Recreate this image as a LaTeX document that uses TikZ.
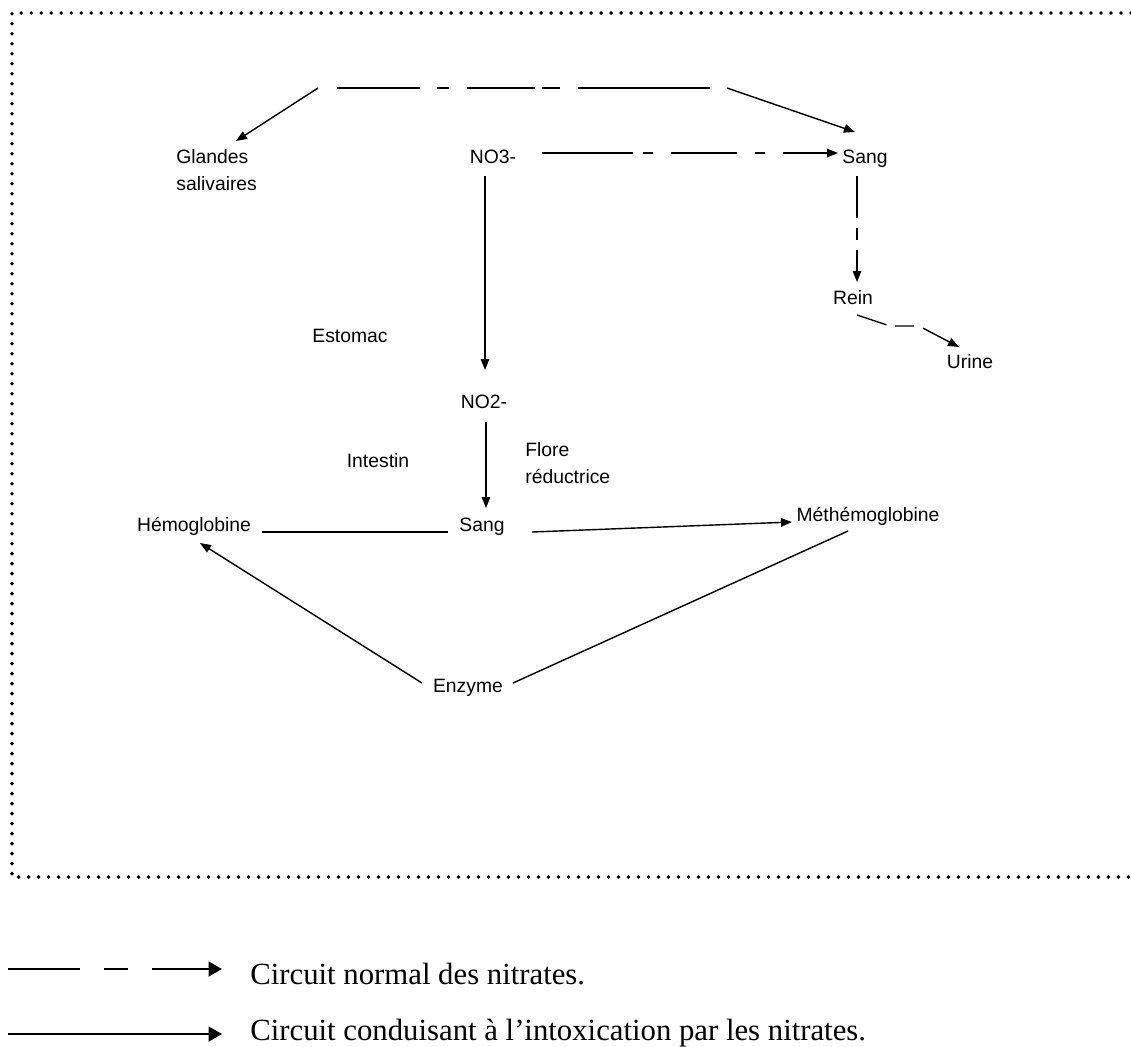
\documentclass[tikz,border=0pt]{standalone}
\usepackage{fontspec}
\setmainfont{Liberation Serif}
\newfontfamily\arialfont{Liberation Sans}
\usepackage{tikz}
\usetikzlibrary{arrows.meta}

\begin{document}
\begin{tikzpicture}[x=0.02cm, y=-0.02cm, >={Triangle[length=2.2mm, width=1.7mm]},
	etiq/.style={inner sep=0pt, anchor=base, font=\arialfont\fontsize{11}{15.3}\selectfont},
	legende/.style={inner sep=0pt, anchor=base west, font=\fontsize{17.5}{21}\selectfont},
	trait/.style={line width=0.8pt},
	cadre/.style={line width=2.2pt, line cap=round, dash pattern=on 0pt off 2mm}]
	\useasboundingbox (0,0) rectangle (1131,1046);
	\draw[cadre] (1131,13) -- (12,13) -- (12,877) -- (1131,877);

	% noeuds
	\node[etiq, anchor=west, align=left] (glandes) at (176,170) {Glandes\\salivaires};
	\node[etiq] (no3) at (493,163) {NO3-};
	\node[etiq] (sang1) at (865,163) {Sang};
	\node[etiq] (rein) at (853,304) {Rein};
	\node[etiq] (urine) at (970,368) {Urine};
	\node[etiq] (estomac) at (350,342) {Estomac};
	\node[etiq] (no2) at (484,408) {NO2-};
	\node[etiq] (intestin) at (378,467) {Intestin};
	\node[etiq, anchor=west, align=left] (flore) at (525,463) {Flore\\réductrice};
	\node[etiq] (sang2) at (482,531) {Sang};
	\node[etiq] (hemo) at (194,531) {Hémoglobine};
	\node[etiq] (methemo) at (868,521) {Méthémoglobine};
	\node[etiq] (enzyme) at (468,692) {Enzyme};

	% circuit normal
	\coordinate (hautG) at (318,88);
	\coordinate (versG) at (236,141);
	\coordinate (hautD) at (727,88);
	\coordinate (versS) at (855,132);
	\draw[trait, ->] (hautG) -- (versG);
	\draw[trait, dash pattern=on 16.6mm off 3.4mm on 2.4mm off 3.6mm on 13.6mm off 1.4mm on 3.6mm off 3.6mm on 30mm]
		([xshift=3.8mm]hautG) -- ([xshift=-3.4mm]hautD);
	\draw[trait, ->] (hautD) -- (versS);
	\draw[trait, ->, dash pattern=on 18.2mm off 2mm on 2mm off 3.6mm on 13.2mm off 3.6mm on 2mm off 3.6mm on 20mm]
		([shift={(49,-10)}]no3.base) -- ([shift={(-27,-10)}]sang1.base);
	\draw[trait, ->, dash pattern=on 8.4mm off 2mm on 2.4mm off 2mm on 10mm]
		([shift={(-8,13)}]sang1.base) -- ([shift={(4,-22)}]rein.base);
	\draw[trait, ->, dash pattern=on 6.2mm off 1.8mm on 3.8mm off 1.9mm on 12mm]
		([shift={(4,11)}]rein.base) -- ++(33,11) -- ++(29,0) -- ([shift={(-11,-21)}]urine.base);

	% intoxication
	\draw[trait, ->] ([shift={(-8,13)}]no3.base) -- ([shift={(1,-38)}]no2.base);
	\draw[trait, ->] ([shift={(2,14)}]no2.base) -- ([shift={(4,-23)}]sang2.base);
	\draw[trait] ([shift={(68,1)}]hemo.base) -- ([shift={(-34,1)}]sang2.base);
	\draw[trait, ->] ([shift={(50,1)}]sang2.base) -- ([shift={(-76,1)}]methemo.base);
	\draw[trait] ([shift={(-20,10)}]methemo.base) -- ([shift={(45,-9)}]enzyme.base);
	\draw[trait, ->] ([shift={(-46,-9)}]enzyme.base) -- ([shift={(6,12)}]hemo.base);

	% legende
	\node[legende] (leg1) at (250,984) {Circuit normal des nitrates.};
	\node[legende] (leg2) at (250,1040) {Circuit conduisant à l’intoxication par les nitrates.};
	\coordinate (depart1) at (8,969);
	\coordinate (depart2) at (8,1034);
	\draw[line width=1.1pt, -{Triangle[length=2.7mm, width=3mm]}, dash pattern=on 14.4mm off 4.8mm on 4.8mm off 4.8mm on 30mm]
		(depart1) -- ([shift={(-28,-15)}]leg1.base west);
	\draw[line width=1.1pt, -{Triangle[length=2.7mm, width=3mm]}]
		(depart2) -- ([shift={(-28,-6)}]leg2.base west);
\end{tikzpicture}
\end{document}
